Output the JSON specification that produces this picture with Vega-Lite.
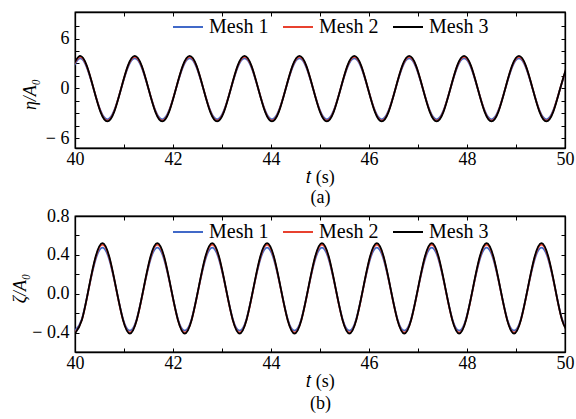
{
  "$schema": "https://vega.github.io/schema/vega-lite/v6.json",
  "padding": {"left": 11, "top": 10, "right": 0, "bottom": 0},
  "background": "white",
  "config": {
    "font": "Liberation Serif",
    "view": {"stroke": "#000", "strokeWidth": 1.3},
    "axis": {
      "domainColor": "#000", "domainWidth": 1.3, "tickColor": "#000", "tickSize": -4, "tickWidth": 1,
      "labelFont": "Liberation Serif", "titleFont": "Liberation Serif",
      "labelFontSize": 18, "titleFontSize": 18, "labelColor": "#000", "titleColor": "#000",
      "titleFontWeight": "normal", "grid": false, "labelFlush": false
    },
    "legend": {"labelFont": "Liberation Serif", "labelFontSize": 20, "labelColor": "#000"}
  },
  "datasets": {
    "top": [
      {"t":39.96,"Mesh 1":2.52,"Mesh 2":2.67,"Mesh 3":2.74},
      {"t":40.10,"Mesh 1":3.6,"Mesh 2":3.8,"Mesh 3":3.9},
      {"t":40.24,"Mesh 1":2.52,"Mesh 2":2.67,"Mesh 3":2.74},
      {"t":40.38,"Mesh 1":-0.08,"Mesh 2":-0.05,"Mesh 3":-0.05},
      {"t":40.52,"Mesh 1":-2.67,"Mesh 2":-2.77,"Mesh 3":-2.84},
      {"t":40.66,"Mesh 1":-3.75,"Mesh 2":-3.9,"Mesh 3":-4.0},
      {"t":40.80,"Mesh 1":-2.67,"Mesh 2":-2.77,"Mesh 3":-2.84},
      {"t":40.94,"Mesh 1":-0.08,"Mesh 2":-0.05,"Mesh 3":-0.05},
      {"t":41.08,"Mesh 1":2.52,"Mesh 2":2.67,"Mesh 3":2.74},
      {"t":41.22,"Mesh 1":3.6,"Mesh 2":3.8,"Mesh 3":3.9},
      {"t":41.36,"Mesh 1":2.52,"Mesh 2":2.67,"Mesh 3":2.74},
      {"t":41.50,"Mesh 1":-0.08,"Mesh 2":-0.05,"Mesh 3":-0.05},
      {"t":41.64,"Mesh 1":-2.67,"Mesh 2":-2.77,"Mesh 3":-2.84},
      {"t":41.78,"Mesh 1":-3.75,"Mesh 2":-3.9,"Mesh 3":-4.0},
      {"t":41.92,"Mesh 1":-2.67,"Mesh 2":-2.77,"Mesh 3":-2.84},
      {"t":42.06,"Mesh 1":-0.08,"Mesh 2":-0.05,"Mesh 3":-0.05},
      {"t":42.20,"Mesh 1":2.52,"Mesh 2":2.67,"Mesh 3":2.74},
      {"t":42.34,"Mesh 1":3.6,"Mesh 2":3.8,"Mesh 3":3.9},
      {"t":42.48,"Mesh 1":2.52,"Mesh 2":2.67,"Mesh 3":2.74},
      {"t":42.62,"Mesh 1":-0.08,"Mesh 2":-0.05,"Mesh 3":-0.05},
      {"t":42.76,"Mesh 1":-2.67,"Mesh 2":-2.77,"Mesh 3":-2.84},
      {"t":42.90,"Mesh 1":-3.75,"Mesh 2":-3.9,"Mesh 3":-4.0},
      {"t":43.04,"Mesh 1":-2.67,"Mesh 2":-2.77,"Mesh 3":-2.84},
      {"t":43.18,"Mesh 1":-0.08,"Mesh 2":-0.05,"Mesh 3":-0.05},
      {"t":43.32,"Mesh 1":2.52,"Mesh 2":2.67,"Mesh 3":2.74},
      {"t":43.46,"Mesh 1":3.6,"Mesh 2":3.8,"Mesh 3":3.9},
      {"t":43.60,"Mesh 1":2.52,"Mesh 2":2.67,"Mesh 3":2.74},
      {"t":43.74,"Mesh 1":-0.08,"Mesh 2":-0.05,"Mesh 3":-0.05},
      {"t":43.88,"Mesh 1":-2.67,"Mesh 2":-2.77,"Mesh 3":-2.84},
      {"t":44.02,"Mesh 1":-3.75,"Mesh 2":-3.9,"Mesh 3":-4.0},
      {"t":44.16,"Mesh 1":-2.67,"Mesh 2":-2.77,"Mesh 3":-2.84},
      {"t":44.30,"Mesh 1":-0.08,"Mesh 2":-0.05,"Mesh 3":-0.05},
      {"t":44.44,"Mesh 1":2.52,"Mesh 2":2.67,"Mesh 3":2.74},
      {"t":44.58,"Mesh 1":3.6,"Mesh 2":3.8,"Mesh 3":3.9},
      {"t":44.72,"Mesh 1":2.52,"Mesh 2":2.67,"Mesh 3":2.74},
      {"t":44.86,"Mesh 1":-0.08,"Mesh 2":-0.05,"Mesh 3":-0.05},
      {"t":45.00,"Mesh 1":-2.67,"Mesh 2":-2.77,"Mesh 3":-2.84},
      {"t":45.14,"Mesh 1":-3.75,"Mesh 2":-3.9,"Mesh 3":-4.0},
      {"t":45.28,"Mesh 1":-2.67,"Mesh 2":-2.77,"Mesh 3":-2.84},
      {"t":45.42,"Mesh 1":-0.08,"Mesh 2":-0.05,"Mesh 3":-0.05},
      {"t":45.56,"Mesh 1":2.52,"Mesh 2":2.67,"Mesh 3":2.74},
      {"t":45.70,"Mesh 1":3.6,"Mesh 2":3.8,"Mesh 3":3.9},
      {"t":45.84,"Mesh 1":2.52,"Mesh 2":2.67,"Mesh 3":2.74},
      {"t":45.98,"Mesh 1":-0.08,"Mesh 2":-0.05,"Mesh 3":-0.05},
      {"t":46.12,"Mesh 1":-2.67,"Mesh 2":-2.77,"Mesh 3":-2.84},
      {"t":46.26,"Mesh 1":-3.75,"Mesh 2":-3.9,"Mesh 3":-4.0},
      {"t":46.40,"Mesh 1":-2.67,"Mesh 2":-2.77,"Mesh 3":-2.84},
      {"t":46.54,"Mesh 1":-0.08,"Mesh 2":-0.05,"Mesh 3":-0.05},
      {"t":46.68,"Mesh 1":2.52,"Mesh 2":2.67,"Mesh 3":2.74},
      {"t":46.82,"Mesh 1":3.6,"Mesh 2":3.8,"Mesh 3":3.9},
      {"t":46.96,"Mesh 1":2.52,"Mesh 2":2.67,"Mesh 3":2.74},
      {"t":47.10,"Mesh 1":-0.08,"Mesh 2":-0.05,"Mesh 3":-0.05},
      {"t":47.24,"Mesh 1":-2.67,"Mesh 2":-2.77,"Mesh 3":-2.84},
      {"t":47.38,"Mesh 1":-3.75,"Mesh 2":-3.9,"Mesh 3":-4.0},
      {"t":47.52,"Mesh 1":-2.67,"Mesh 2":-2.77,"Mesh 3":-2.84},
      {"t":47.66,"Mesh 1":-0.08,"Mesh 2":-0.05,"Mesh 3":-0.05},
      {"t":47.80,"Mesh 1":2.52,"Mesh 2":2.67,"Mesh 3":2.74},
      {"t":47.94,"Mesh 1":3.6,"Mesh 2":3.8,"Mesh 3":3.9},
      {"t":48.08,"Mesh 1":2.52,"Mesh 2":2.67,"Mesh 3":2.74},
      {"t":48.22,"Mesh 1":-0.08,"Mesh 2":-0.05,"Mesh 3":-0.05},
      {"t":48.36,"Mesh 1":-2.67,"Mesh 2":-2.77,"Mesh 3":-2.84},
      {"t":48.50,"Mesh 1":-3.75,"Mesh 2":-3.9,"Mesh 3":-4.0},
      {"t":48.64,"Mesh 1":-2.67,"Mesh 2":-2.77,"Mesh 3":-2.84},
      {"t":48.78,"Mesh 1":-0.08,"Mesh 2":-0.05,"Mesh 3":-0.05},
      {"t":48.92,"Mesh 1":2.52,"Mesh 2":2.67,"Mesh 3":2.74},
      {"t":49.06,"Mesh 1":3.6,"Mesh 2":3.8,"Mesh 3":3.9},
      {"t":49.20,"Mesh 1":2.52,"Mesh 2":2.67,"Mesh 3":2.74},
      {"t":49.34,"Mesh 1":-0.08,"Mesh 2":-0.05,"Mesh 3":-0.05},
      {"t":49.48,"Mesh 1":-2.67,"Mesh 2":-2.77,"Mesh 3":-2.84},
      {"t":49.62,"Mesh 1":-3.75,"Mesh 2":-3.9,"Mesh 3":-4.0},
      {"t":49.76,"Mesh 1":-2.67,"Mesh 2":-2.77,"Mesh 3":-2.84},
      {"t":49.90,"Mesh 1":-0.08,"Mesh 2":-0.05,"Mesh 3":-0.05},
      {"t":50.04,"Mesh 1":2.52,"Mesh 2":2.67,"Mesh 3":2.74}
    ],
    "bot": [
      {"t":40.00,"Mesh 1":-0.38,"Mesh 2":-0.40,"Mesh 3":-0.41},
      {"t":40.14,"Mesh 1":-0.26,"Mesh 2":-0.27,"Mesh 3":-0.27},
      {"t":40.28,"Mesh 1":0.05,"Mesh 2":0.05,"Mesh 3":0.055},
      {"t":40.42,"Mesh 1":0.35,"Mesh 2":0.37,"Mesh 3":0.38},
      {"t":40.56,"Mesh 1":0.475,"Mesh 2":0.505,"Mesh 3":0.52},
      {"t":40.70,"Mesh 1":0.35,"Mesh 2":0.37,"Mesh 3":0.38},
      {"t":40.84,"Mesh 1":0.05,"Mesh 2":0.05,"Mesh 3":0.055},
      {"t":40.98,"Mesh 1":-0.26,"Mesh 2":-0.27,"Mesh 3":-0.27},
      {"t":41.12,"Mesh 1":-0.38,"Mesh 2":-0.40,"Mesh 3":-0.41},
      {"t":41.26,"Mesh 1":-0.26,"Mesh 2":-0.27,"Mesh 3":-0.27},
      {"t":41.40,"Mesh 1":0.05,"Mesh 2":0.05,"Mesh 3":0.055},
      {"t":41.54,"Mesh 1":0.35,"Mesh 2":0.37,"Mesh 3":0.38},
      {"t":41.68,"Mesh 1":0.475,"Mesh 2":0.505,"Mesh 3":0.52},
      {"t":41.82,"Mesh 1":0.35,"Mesh 2":0.37,"Mesh 3":0.38},
      {"t":41.96,"Mesh 1":0.05,"Mesh 2":0.05,"Mesh 3":0.055},
      {"t":42.10,"Mesh 1":-0.26,"Mesh 2":-0.27,"Mesh 3":-0.27},
      {"t":42.24,"Mesh 1":-0.38,"Mesh 2":-0.40,"Mesh 3":-0.41},
      {"t":42.38,"Mesh 1":-0.26,"Mesh 2":-0.27,"Mesh 3":-0.27},
      {"t":42.52,"Mesh 1":0.05,"Mesh 2":0.05,"Mesh 3":0.055},
      {"t":42.66,"Mesh 1":0.35,"Mesh 2":0.37,"Mesh 3":0.38},
      {"t":42.80,"Mesh 1":0.475,"Mesh 2":0.505,"Mesh 3":0.52},
      {"t":42.94,"Mesh 1":0.35,"Mesh 2":0.37,"Mesh 3":0.38},
      {"t":43.08,"Mesh 1":0.05,"Mesh 2":0.05,"Mesh 3":0.055},
      {"t":43.22,"Mesh 1":-0.26,"Mesh 2":-0.27,"Mesh 3":-0.27},
      {"t":43.36,"Mesh 1":-0.38,"Mesh 2":-0.40,"Mesh 3":-0.41},
      {"t":43.50,"Mesh 1":-0.26,"Mesh 2":-0.27,"Mesh 3":-0.27},
      {"t":43.64,"Mesh 1":0.05,"Mesh 2":0.05,"Mesh 3":0.055},
      {"t":43.78,"Mesh 1":0.35,"Mesh 2":0.37,"Mesh 3":0.38},
      {"t":43.92,"Mesh 1":0.475,"Mesh 2":0.505,"Mesh 3":0.52},
      {"t":44.06,"Mesh 1":0.35,"Mesh 2":0.37,"Mesh 3":0.38},
      {"t":44.20,"Mesh 1":0.05,"Mesh 2":0.05,"Mesh 3":0.055},
      {"t":44.34,"Mesh 1":-0.26,"Mesh 2":-0.27,"Mesh 3":-0.27},
      {"t":44.48,"Mesh 1":-0.38,"Mesh 2":-0.40,"Mesh 3":-0.41},
      {"t":44.62,"Mesh 1":-0.26,"Mesh 2":-0.27,"Mesh 3":-0.27},
      {"t":44.76,"Mesh 1":0.05,"Mesh 2":0.05,"Mesh 3":0.055},
      {"t":44.90,"Mesh 1":0.35,"Mesh 2":0.37,"Mesh 3":0.38},
      {"t":45.04,"Mesh 1":0.475,"Mesh 2":0.505,"Mesh 3":0.52},
      {"t":45.18,"Mesh 1":0.35,"Mesh 2":0.37,"Mesh 3":0.38},
      {"t":45.32,"Mesh 1":0.05,"Mesh 2":0.05,"Mesh 3":0.055},
      {"t":45.46,"Mesh 1":-0.26,"Mesh 2":-0.27,"Mesh 3":-0.27},
      {"t":45.60,"Mesh 1":-0.38,"Mesh 2":-0.40,"Mesh 3":-0.41},
      {"t":45.74,"Mesh 1":-0.26,"Mesh 2":-0.27,"Mesh 3":-0.27},
      {"t":45.88,"Mesh 1":0.05,"Mesh 2":0.05,"Mesh 3":0.055},
      {"t":46.02,"Mesh 1":0.35,"Mesh 2":0.37,"Mesh 3":0.38},
      {"t":46.16,"Mesh 1":0.475,"Mesh 2":0.505,"Mesh 3":0.52},
      {"t":46.30,"Mesh 1":0.35,"Mesh 2":0.37,"Mesh 3":0.38},
      {"t":46.44,"Mesh 1":0.05,"Mesh 2":0.05,"Mesh 3":0.055},
      {"t":46.58,"Mesh 1":-0.26,"Mesh 2":-0.27,"Mesh 3":-0.27},
      {"t":46.72,"Mesh 1":-0.38,"Mesh 2":-0.40,"Mesh 3":-0.41},
      {"t":46.86,"Mesh 1":-0.26,"Mesh 2":-0.27,"Mesh 3":-0.27},
      {"t":47.00,"Mesh 1":0.05,"Mesh 2":0.05,"Mesh 3":0.055},
      {"t":47.14,"Mesh 1":0.35,"Mesh 2":0.37,"Mesh 3":0.38},
      {"t":47.28,"Mesh 1":0.475,"Mesh 2":0.505,"Mesh 3":0.52},
      {"t":47.42,"Mesh 1":0.35,"Mesh 2":0.37,"Mesh 3":0.38},
      {"t":47.56,"Mesh 1":0.05,"Mesh 2":0.05,"Mesh 3":0.055},
      {"t":47.70,"Mesh 1":-0.26,"Mesh 2":-0.27,"Mesh 3":-0.27},
      {"t":47.84,"Mesh 1":-0.38,"Mesh 2":-0.40,"Mesh 3":-0.41},
      {"t":47.98,"Mesh 1":-0.26,"Mesh 2":-0.27,"Mesh 3":-0.27},
      {"t":48.12,"Mesh 1":0.05,"Mesh 2":0.05,"Mesh 3":0.055},
      {"t":48.26,"Mesh 1":0.35,"Mesh 2":0.37,"Mesh 3":0.38},
      {"t":48.40,"Mesh 1":0.475,"Mesh 2":0.505,"Mesh 3":0.52},
      {"t":48.54,"Mesh 1":0.35,"Mesh 2":0.37,"Mesh 3":0.38},
      {"t":48.68,"Mesh 1":0.05,"Mesh 2":0.05,"Mesh 3":0.055},
      {"t":48.82,"Mesh 1":-0.26,"Mesh 2":-0.27,"Mesh 3":-0.27},
      {"t":48.96,"Mesh 1":-0.38,"Mesh 2":-0.40,"Mesh 3":-0.41},
      {"t":49.10,"Mesh 1":-0.26,"Mesh 2":-0.27,"Mesh 3":-0.27},
      {"t":49.24,"Mesh 1":0.05,"Mesh 2":0.05,"Mesh 3":0.055},
      {"t":49.38,"Mesh 1":0.35,"Mesh 2":0.37,"Mesh 3":0.38},
      {"t":49.52,"Mesh 1":0.475,"Mesh 2":0.505,"Mesh 3":0.52},
      {"t":49.66,"Mesh 1":0.35,"Mesh 2":0.37,"Mesh 3":0.38},
      {"t":49.80,"Mesh 1":0.05,"Mesh 2":0.05,"Mesh 3":0.055},
      {"t":49.94,"Mesh 1":-0.26,"Mesh 2":-0.27,"Mesh 3":-0.27},
      {"t":50.08,"Mesh 1":-0.38,"Mesh 2":-0.40,"Mesh 3":-0.41}
    ]
  },
  "spacing": -1,
  "resolve": {"scale": {"color": "independent"}, "legend": {"color": "independent"}},
  "vconcat": [
    {
      "width": 490, "height": 136,
      "data": {"name": "top"},
      "transform": [{"fold": ["Mesh 1", "Mesh 2", "Mesh 3"], "as": ["series", "v"]}],
      "layer": [
        {
          "mark": {"type": "line", "interpolate": "natural", "clip": true, "strokeWidth": 1.8},
          "encoding": {
            "x": {"field": "t", "type": "quantitative", "scale": {"domain": [40, 50], "nice": false},
              "axis": {"values": [40,41,42,43,44,45,46,47,48,49,50], "labelExpr": "datum.value % 2 == 0 ? datum.label : ''",
                "title": ["𝑡 (s)", "(a)"], "titleLineHeight": 20, "labelPadding": 6, "titlePadding": 0}},
            "y": {"field": "v", "type": "quantitative", "scale": {"domain": [-7.2, 9.2], "nice": false, "zero": false},
              "axis": {"values": [-6,-4.5,-3,-1.5,0,1.5,3,4.5,6,7.5],
                "labelExpr": "datum.value % 6 == 0 ? (datum.value < 0 ? '− ' + format(-datum.value, 'd') : format(datum.value, 'd')) : ''",
                "title": "η/A₀", "titleFontStyle": "italic", "labelPadding": 10, "titlePadding": 6, "titleY": 82}},
            "color": {"field": "series", "type": "nominal",
              "scale": {"domain": ["Mesh 1", "Mesh 2", "Mesh 3"], "range": ["#4169c8", "#e8412f", "#000000"]},
              "legend": {"orient": "none", "legendX": 97, "legendY": -1, "direction": "horizontal", "title": null,
                "symbolType": "stroke", "symbolSize": 900, "symbolStrokeWidth": 2, "labelOffset": 5, "columnPadding": 10, "padding": 0}}
          }
        },
        {
          "mark": {"type": "line", "opacity": 0},
          "encoding": {
            "x": {"field": "t", "type": "quantitative", "axis": {"orient": "top", "values": [40,41,42,43,44,45,46,47,48,49,50], "labels": false, "title": null}},
            "y": {"field": "v", "type": "quantitative", "axis": {"orient": "right", "values": [-6,-4.5,-3,-1.5,0,1.5,3,4.5,6,7.5], "labels": false, "title": null}}
          }
        }
      ],
      "resolve": {"axis": {"x": "independent", "y": "independent"}}
    },
    {
      "width": 490, "height": 136,
      "data": {"name": "bot"},
      "transform": [{"fold": ["Mesh 1", "Mesh 2", "Mesh 3"], "as": ["series", "v"]}],
      "layer": [
        {
          "mark": {"type": "line", "interpolate": "natural", "clip": true, "strokeWidth": 1.8},
          "encoding": {
            "x": {"field": "t", "type": "quantitative", "scale": {"domain": [40, 50], "nice": false},
              "axis": {"values": [40,41,42,43,44,45,46,47,48,49,50], "labelExpr": "datum.value % 2 == 0 ? datum.label : ''",
                "title": ["𝑡 (s)", "(b)"], "titleLineHeight": 22, "labelPadding": 6, "titlePadding": 0}},
            "y": {"field": "v", "type": "quantitative", "scale": {"domain": [-0.6, 0.8], "nice": false, "zero": false},
              "axis": {"values": [-0.4,-0.2,0,0.2,0.4,0.6,0.8],
                "labelExpr": "indexof([-0.4, 0, 0.4, 0.8], datum.value) >= 0 ? (datum.value < 0 ? '− ' + format(-datum.value, '.1f') : format(datum.value, '.1f')) : ''",
                "title": "ζ/A₀", "titleFontStyle": "italic", "labelPadding": 10, "titlePadding": 2, "titleY": 72}},
            "color": {"field": "series", "type": "nominal",
              "scale": {"domain": ["Mesh 1", "Mesh 2", "Mesh 3"], "range": ["#4169c8", "#e8412f", "#000000"]},
              "legend": {"orient": "none", "legendX": 97, "legendY": 0, "direction": "horizontal", "title": null,
                "symbolType": "stroke", "symbolSize": 900, "symbolStrokeWidth": 2, "labelOffset": 5, "columnPadding": 10, "padding": 0}}
          }
        },
        {
          "mark": {"type": "line", "opacity": 0},
          "encoding": {
            "x": {"field": "t", "type": "quantitative", "axis": {"orient": "top", "values": [40,41,42,43,44,45,46,47,48,49,50], "labels": false, "title": null}},
            "y": {"field": "v", "type": "quantitative", "axis": {"orient": "right", "values": [-0.4,-0.2,0,0.2,0.4,0.6,0.8], "labels": false, "title": null}}
          }
        }
      ],
      "resolve": {"axis": {"x": "independent", "y": "independent"}}
    }
  ]
}
